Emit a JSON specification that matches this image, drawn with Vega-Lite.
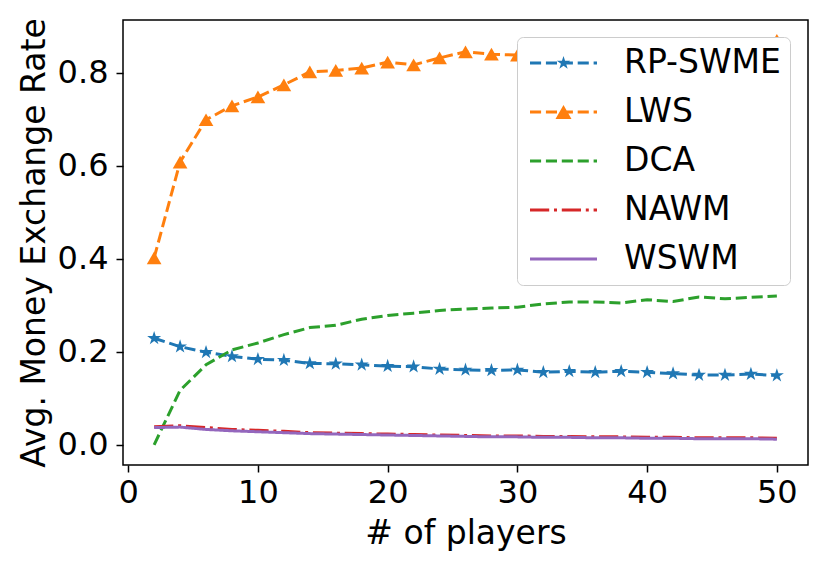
{
  "$schema": "https://vega.github.io/schema/vega-lite/v6.json",
  "width": 685,
  "height": 445,
  "autosize": {"type": "none"},
  "padding": {"left": 123, "top": 20, "right": 22, "bottom": 103},
  "background": "white",
  "config": {
    "view": {"stroke": "black", "strokeWidth": 1.5},
    "axis": {
      "labelFont": "DejaVu Sans",
      "titleFont": "DejaVu Sans",
      "labelFontSize": 32,
      "titleFontSize": 33,
      "titleFontWeight": "normal",
      "labelColor": "black",
      "titleColor": "black",
      "tickColor": "black",
      "tickWidth": 1.5,
      "tickSize": 7,
      "domain": false,
      "grid": false
    },
    "legend": {
      "orient": "none",
      "legendX": 394,
      "legendY": 17,
      "padding": 9,
      "cornerRadius": 6,
      "strokeColor": "#cccccc",
      "fillColor": "white",
      "labelFont": "DejaVu Sans",
      "labelFontSize": 33,
      "labelColor": "black",
      "labelOffset": 27,
      "labelLimit": 0,
      "symbolSize": 4489,
      "symbolStrokeWidth": 0,
      "symbolOffset": 4,
      "clipHeight": 34,
      "rowPadding": 15
    }
  },
  "data": {
    "values": [
      {"n": 2, "series": "RP-SWME", "v": 0.229}, {"n": 4, "series": "RP-SWME", "v": 0.211},
      {"n": 6, "series": "RP-SWME", "v": 0.199}, {"n": 8, "series": "RP-SWME", "v": 0.190},
      {"n": 10, "series": "RP-SWME", "v": 0.184}, {"n": 12, "series": "RP-SWME", "v": 0.182},
      {"n": 14, "series": "RP-SWME", "v": 0.175}, {"n": 16, "series": "RP-SWME", "v": 0.174},
      {"n": 18, "series": "RP-SWME", "v": 0.172}, {"n": 20, "series": "RP-SWME", "v": 0.169},
      {"n": 22, "series": "RP-SWME", "v": 0.168}, {"n": 24, "series": "RP-SWME", "v": 0.163},
      {"n": 26, "series": "RP-SWME", "v": 0.161}, {"n": 28, "series": "RP-SWME", "v": 0.160},
      {"n": 30, "series": "RP-SWME", "v": 0.161}, {"n": 32, "series": "RP-SWME", "v": 0.156},
      {"n": 34, "series": "RP-SWME", "v": 0.158}, {"n": 36, "series": "RP-SWME", "v": 0.156},
      {"n": 38, "series": "RP-SWME", "v": 0.158}, {"n": 40, "series": "RP-SWME", "v": 0.156},
      {"n": 42, "series": "RP-SWME", "v": 0.153}, {"n": 44, "series": "RP-SWME", "v": 0.150},
      {"n": 46, "series": "RP-SWME", "v": 0.150}, {"n": 48, "series": "RP-SWME", "v": 0.152},
      {"n": 50, "series": "RP-SWME", "v": 0.149},

      {"n": 2, "series": "LWS", "v": 0.402}, {"n": 4, "series": "LWS", "v": 0.608},
      {"n": 6, "series": "LWS", "v": 0.699}, {"n": 8, "series": "LWS", "v": 0.729},
      {"n": 10, "series": "LWS", "v": 0.748}, {"n": 12, "series": "LWS", "v": 0.774},
      {"n": 14, "series": "LWS", "v": 0.802}, {"n": 16, "series": "LWS", "v": 0.805},
      {"n": 18, "series": "LWS", "v": 0.810}, {"n": 20, "series": "LWS", "v": 0.823},
      {"n": 22, "series": "LWS", "v": 0.817}, {"n": 24, "series": "LWS", "v": 0.832},
      {"n": 26, "series": "LWS", "v": 0.845}, {"n": 28, "series": "LWS", "v": 0.840},
      {"n": 30, "series": "LWS", "v": 0.838}, {"n": 32, "series": "LWS", "v": 0.845},
      {"n": 34, "series": "LWS", "v": 0.850}, {"n": 36, "series": "LWS", "v": 0.862},
      {"n": 38, "series": "LWS", "v": 0.855}, {"n": 40, "series": "LWS", "v": 0.855},
      {"n": 42, "series": "LWS", "v": 0.863}, {"n": 44, "series": "LWS", "v": 0.864},
      {"n": 46, "series": "LWS", "v": 0.858}, {"n": 48, "series": "LWS", "v": 0.856},
      {"n": 50, "series": "LWS", "v": 0.870},

      {"n": 2, "series": "DCA", "v": 0.0}, {"n": 4, "series": "DCA", "v": 0.117},
      {"n": 6, "series": "DCA", "v": 0.172}, {"n": 8, "series": "DCA", "v": 0.204},
      {"n": 10, "series": "DCA", "v": 0.219}, {"n": 12, "series": "DCA", "v": 0.237},
      {"n": 14, "series": "DCA", "v": 0.252}, {"n": 16, "series": "DCA", "v": 0.257},
      {"n": 18, "series": "DCA", "v": 0.270}, {"n": 20, "series": "DCA", "v": 0.278},
      {"n": 22, "series": "DCA", "v": 0.283}, {"n": 24, "series": "DCA", "v": 0.289},
      {"n": 26, "series": "DCA", "v": 0.292}, {"n": 28, "series": "DCA", "v": 0.294},
      {"n": 30, "series": "DCA", "v": 0.296}, {"n": 32, "series": "DCA", "v": 0.303},
      {"n": 34, "series": "DCA", "v": 0.307}, {"n": 36, "series": "DCA", "v": 0.307},
      {"n": 38, "series": "DCA", "v": 0.305}, {"n": 40, "series": "DCA", "v": 0.312},
      {"n": 42, "series": "DCA", "v": 0.308}, {"n": 44, "series": "DCA", "v": 0.318},
      {"n": 46, "series": "DCA", "v": 0.314}, {"n": 48, "series": "DCA", "v": 0.317},
      {"n": 50, "series": "DCA", "v": 0.320},

      {"n": 2, "series": "NAWM", "v": 0.039}, {"n": 4, "series": "NAWM", "v": 0.041},
      {"n": 6, "series": "NAWM", "v": 0.037}, {"n": 8, "series": "NAWM", "v": 0.033},
      {"n": 10, "series": "NAWM", "v": 0.031}, {"n": 12, "series": "NAWM", "v": 0.029},
      {"n": 14, "series": "NAWM", "v": 0.026}, {"n": 16, "series": "NAWM", "v": 0.025},
      {"n": 18, "series": "NAWM", "v": 0.024}, {"n": 20, "series": "NAWM", "v": 0.023},
      {"n": 22, "series": "NAWM", "v": 0.022}, {"n": 24, "series": "NAWM", "v": 0.021},
      {"n": 26, "series": "NAWM", "v": 0.020}, {"n": 28, "series": "NAWM", "v": 0.019},
      {"n": 30, "series": "NAWM", "v": 0.019}, {"n": 32, "series": "NAWM", "v": 0.018},
      {"n": 34, "series": "NAWM", "v": 0.018}, {"n": 36, "series": "NAWM", "v": 0.017},
      {"n": 38, "series": "NAWM", "v": 0.017}, {"n": 40, "series": "NAWM", "v": 0.016},
      {"n": 42, "series": "NAWM", "v": 0.016}, {"n": 44, "series": "NAWM", "v": 0.015},
      {"n": 46, "series": "NAWM", "v": 0.015}, {"n": 48, "series": "NAWM", "v": 0.015},
      {"n": 50, "series": "NAWM", "v": 0.014},

      {"n": 2, "series": "WSWM", "v": 0.037}, {"n": 4, "series": "WSWM", "v": 0.038},
      {"n": 6, "series": "WSWM", "v": 0.033}, {"n": 8, "series": "WSWM", "v": 0.030},
      {"n": 10, "series": "WSWM", "v": 0.028}, {"n": 12, "series": "WSWM", "v": 0.026},
      {"n": 14, "series": "WSWM", "v": 0.024}, {"n": 16, "series": "WSWM", "v": 0.023},
      {"n": 18, "series": "WSWM", "v": 0.022}, {"n": 20, "series": "WSWM", "v": 0.021},
      {"n": 22, "series": "WSWM", "v": 0.020}, {"n": 24, "series": "WSWM", "v": 0.019},
      {"n": 26, "series": "WSWM", "v": 0.018}, {"n": 28, "series": "WSWM", "v": 0.017},
      {"n": 30, "series": "WSWM", "v": 0.017}, {"n": 32, "series": "WSWM", "v": 0.016},
      {"n": 34, "series": "WSWM", "v": 0.016}, {"n": 36, "series": "WSWM", "v": 0.015},
      {"n": 38, "series": "WSWM", "v": 0.015}, {"n": 40, "series": "WSWM", "v": 0.014},
      {"n": 42, "series": "WSWM", "v": 0.014}, {"n": 44, "series": "WSWM", "v": 0.013},
      {"n": 46, "series": "WSWM", "v": 0.013}, {"n": 48, "series": "WSWM", "v": 0.013},
      {"n": 50, "series": "WSWM", "v": 0.012}
    ]
  },
  "encoding": {
    "x": {
      "field": "n",
      "type": "quantitative",
      "scale": {"domain": [-0.4, 52.4], "nice": false, "zero": false},
      "axis": {"title": "# of players", "values": [0, 10, 20, 30, 40, 50], "format": "d", "labelPadding": 5, "titlePadding": 9}
    },
    "y": {
      "field": "v",
      "type": "quantitative",
      "scale": {"domain": [-0.0435, 0.9135], "nice": false, "zero": false},
      "axis": {"title": "Avg. Money Exchange Rate", "values": [0, 0.2, 0.4, 0.6, 0.8], "format": ".1f", "labelPadding": 8, "titlePadding": 6}
    },
    "color": {
      "field": "series",
      "type": "nominal",
      "sort": ["RP-SWME", "LWS", "DCA", "NAWM", "WSWM"],
      "scale": {
        "domain": ["RP-SWME", "LWS", "DCA", "NAWM", "WSWM"],
        "range": ["#1f77b4", "#ff7f0e", "#2ca02c", "#d62728", "#9467bd"]
      }
    }
  },
  "layer": [
    {
      "mark": {"type": "line", "strokeWidth": 3},
      "encoding": {
        "strokeDash": {
          "field": "series",
          "type": "nominal",
          "scale": {
            "domain": ["RP-SWME", "LWS", "DCA", "NAWM", "WSWM"],
            "range": [[11.1, 4.8], [11.1, 4.8], [11.1, 4.8], [19.2, 4.8, 3, 4.8], [1, 0]]
          },
          "legend": null
        },
        "color": {
          "field": "series",
          "type": "nominal",
          "sort": ["RP-SWME", "LWS", "DCA", "NAWM", "WSWM"],
          "legend": {
            "title": null,
            "encode": {
              "symbols": {
                "update": {
                  "shape": {"signal": "datum.value === 'RP-SWME' ? 'M-1,-0.045L-0.669,-0.045L-0.669,0.045L-1,0.045ZM-0.525,-0.045L-0.194,-0.045L-0.194,0.045L-0.525,0.045ZM-0.051,-0.045L0.281,-0.045L0.281,0.045L-0.051,0.045ZM0.424,-0.045L0.755,-0.045L0.755,0.045L0.424,0.045ZM0.899,-0.045L1,-0.045L1,0.045L0.899,0.045ZM0,-0.21L0.0471,-0.0649L0.1997,-0.0649L0.0763,0.0248L0.1234,0.1699L0,0.0802L-0.1234,0.1699L-0.0763,0.0248L-0.1997,-0.0649L-0.0471,-0.0649Z' : datum.value === 'LWS' ? 'M-1,-0.045L-0.669,-0.045L-0.669,0.045L-1,0.045ZM-0.525,-0.045L-0.194,-0.045L-0.194,0.045L-0.525,0.045ZM-0.051,-0.045L0.281,-0.045L0.281,0.045L-0.051,0.045ZM0.424,-0.045L0.755,-0.045L0.755,0.045L0.424,0.045ZM0.899,-0.045L1,-0.045L1,0.045L0.899,0.045ZM0,-0.207L0.239,0.207L-0.239,0.207Z' : datum.value === 'DCA' ? 'M-1,-0.045L-0.669,-0.045L-0.669,0.045L-1,0.045ZM-0.525,-0.045L-0.194,-0.045L-0.194,0.045L-0.525,0.045ZM-0.051,-0.045L0.281,-0.045L0.281,0.045L-0.051,0.045ZM0.424,-0.045L0.755,-0.045L0.755,0.045L0.424,0.045ZM0.899,-0.045L1,-0.045L1,0.045L0.899,0.045Z' : datum.value === 'NAWM' ? 'M-1,-0.045L-0.427,-0.045L-0.427,0.045L-1,0.045ZM-0.284,-0.045L-0.194,-0.045L-0.194,0.045L-0.284,0.045ZM-0.051,-0.045L0.522,-0.045L0.522,0.045L-0.051,0.045ZM0.666,-0.045L0.755,-0.045L0.755,0.045L0.666,0.045ZM0.899,-0.045L1,-0.045L1,0.045L0.899,0.045Z' : 'M-1,-0.045L1,-0.045L1,0.045L-1,0.045Z'"},
                  "fill": {"scale": "color", "field": "value"},
                  "stroke": {"value": "transparent"},
                  "strokeWidth": {"value": 0}
                }
              }
            }
          }
        }
      }
    },
    {
      "transform": [{"filter": {"field": "series", "oneOf": ["RP-SWME", "LWS"]}}],
      "mark": {"type": "point", "filled": true, "opacity": 1, "size": 215},
      "encoding": {
        "shape": {
          "field": "series",
          "type": "nominal",
          "scale": {
            "domain": ["RP-SWME", "LWS"],
            "range": ["M0,-1L0.2245,-0.309L0.9511,-0.309L0.3633,0.118L0.5878,0.809L0,0.382L-0.5878,0.809L-0.3633,0.118L-0.9511,-0.309L-0.2245,-0.309Z", "triangle-up"]
          },
          "legend": null
        }
      }
    }
  ]
}
